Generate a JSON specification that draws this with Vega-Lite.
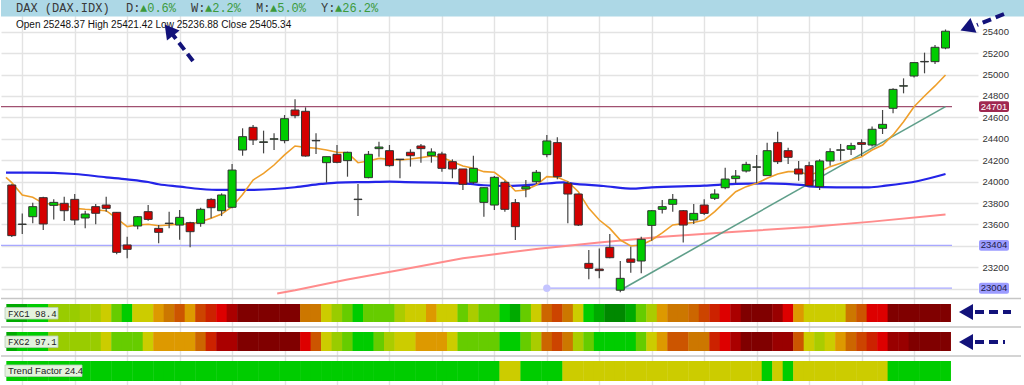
{
  "$schema": "https://vega.github.io/schema/vega-lite/v6.json",
  "width": 977,
  "height": 385,
  "padding": 0,
  "autosize": {"type": "pad"},
  "background": "white",
  "config": {"view": {"stroke": null}, "text": {"font": "Liberation Sans"}},
  "datasets": {
    "candles": [
      {"i":0,"o":23968,"h":23975,"l":23482,"c":23495,"f1":1,"f2":1,"tf":2},
      {"i":1,"o":23600,"h":23703,"l":23510,"c":23603,"f1":1,"f2":2,"tf":2},
      {"i":2,"o":23672,"h":23803,"l":23610,"c":23766,"f1":2,"f2":2,"tf":2},
      {"i":3,"o":23850,"h":23859,"l":23548,"c":23604,"f1":2,"f2":2,"tf":2},
      {"i":4,"o":23778,"h":23834,"l":23647,"c":23806,"f1":4,"f2":4,"tf":2},
      {"i":5,"o":23797,"h":23859,"l":23632,"c":23728,"f1":4,"f2":4,"tf":2},
      {"i":6,"o":23834,"h":23884,"l":23594,"c":23641,"f1":4,"f2":4,"tf":2},
      {"i":7,"o":23660,"h":23728,"l":23563,"c":23697,"f1":5,"f2":4,"tf":2},
      {"i":8,"o":23766,"h":23791,"l":23601,"c":23704,"f1":5,"f2":4,"tf":2},
      {"i":9,"o":23781,"h":23859,"l":23719,"c":23750,"f1":6,"f2":6,"tf":2},
      {"i":10,"o":23713,"h":23716,"l":23320,"c":23339,"f1":3,"f2":3,"tf":2},
      {"i":11,"o":23408,"h":23485,"l":23283,"c":23367,"f1":2,"f2":3,"tf":2},
      {"i":12,"o":23585,"h":23678,"l":23554,"c":23672,"f1":6,"f2":3,"tf":2},
      {"i":13,"o":23719,"h":23781,"l":23635,"c":23647,"f1":6,"f2":6,"tf":2},
      {"i":14,"o":23563,"h":23594,"l":23423,"c":23526,"f1":7,"f2":7,"tf":2},
      {"i":15,"o":23608,"h":23719,"l":23563,"c":23612,"f1":8,"f2":7,"tf":2},
      {"i":16,"o":23594,"h":23735,"l":23457,"c":23666,"f1":10,"f2":7,"tf":2},
      {"i":17,"o":23616,"h":23625,"l":23386,"c":23532,"f1":7,"f2":7,"tf":2},
      {"i":18,"o":23610,"h":23756,"l":23579,"c":23741,"f1":11,"f2":9,"tf":2},
      {"i":19,"o":23834,"h":23844,"l":23657,"c":23756,"f1":12,"f2":12,"tf":2},
      {"i":20,"o":23728,"h":23890,"l":23678,"c":23875,"f1":13,"f2":14,"tf":2},
      {"i":21,"o":23760,"h":24165,"l":23750,"c":24108,"f1":14,"f2":14,"tf":2},
      {"i":22,"o":24295,"h":24498,"l":24242,"c":24420,"f1":16,"f2":16,"tf":2},
      {"i":23,"o":24507,"h":24529,"l":24342,"c":24389,"f1":16,"f2":16,"tf":2},
      {"i":24,"o":24366,"h":24476,"l":24264,"c":24372,"f1":16,"f2":16,"tf":2},
      {"i":25,"o":24396,"h":24451,"l":24295,"c":24400,"f1":16,"f2":16,"tf":2},
      {"i":26,"o":24383,"h":24622,"l":24358,"c":24588,"f1":16,"f2":16,"tf":2},
      {"i":27,"o":24669,"h":24769,"l":24591,"c":24616,"f1":16,"f2":16,"tf":2},
      {"i":28,"o":24657,"h":24694,"l":24233,"c":24239,"f1":8,"f2":13,"tf":2},
      {"i":29,"o":24381,"h":24451,"l":24258,"c":24385,"f1":8,"f2":10,"tf":2},
      {"i":30,"o":24177,"h":24233,"l":23990,"c":24233,"f1":6,"f2":6,"tf":2},
      {"i":31,"o":24255,"h":24342,"l":24171,"c":24180,"f1":4,"f2":4,"tf":2},
      {"i":32,"o":24196,"h":24280,"l":24046,"c":24274,"f1":3,"f2":3,"tf":2},
      {"i":33,"o":23832,"h":23978,"l":23679,"c":23836,"f1":2,"f2":2,"tf":2},
      {"i":34,"o":24037,"h":24286,"l":24031,"c":24255,"f1":3,"f2":2,"tf":2},
      {"i":35,"o":24308,"h":24373,"l":24233,"c":24323,"f1":3,"f2":3,"tf":2},
      {"i":36,"o":24289,"h":24342,"l":24140,"c":24149,"f1":3,"f2":5,"tf":2},
      {"i":37,"o":24206,"h":24211,"l":24031,"c":24210,"f1":5,"f2":6,"tf":2},
      {"i":38,"o":24274,"h":24302,"l":24140,"c":24242,"f1":6,"f2":6,"tf":2},
      {"i":39,"o":24333,"h":24351,"l":24177,"c":24308,"f1":6,"f2":7,"tf":2},
      {"i":40,"o":24242,"h":24311,"l":24177,"c":24277,"f1":7,"f2":7,"tf":2},
      {"i":41,"o":24258,"h":24280,"l":24093,"c":24124,"f1":6,"f2":7,"tf":2},
      {"i":42,"o":24186,"h":24208,"l":24031,"c":24118,"f1":6,"f2":6,"tf":2},
      {"i":43,"o":24118,"h":24118,"l":23922,"c":23975,"f1":3,"f2":3,"tf":2},
      {"i":44,"o":23993,"h":24242,"l":23978,"c":24124,"f1":5,"f2":3,"tf":2},
      {"i":45,"o":23806,"h":23945,"l":23672,"c":23943,"f1":3,"f2":3,"tf":2},
      {"i":46,"o":23781,"h":24052,"l":23735,"c":24040,"f1":3,"f2":3,"tf":2},
      {"i":47,"o":23993,"h":24009,"l":23719,"c":23741,"f1":2,"f2":2,"tf":6},
      {"i":48,"o":23803,"h":23837,"l":23454,"c":23579,"f1":1,"f2":2,"tf":6},
      {"i":49,"o":23931,"h":24015,"l":23853,"c":23953,"f1":3,"f2":3,"tf":2},
      {"i":50,"o":23999,"h":24108,"l":23978,"c":24087,"f1":6,"f2":5,"tf":2},
      {"i":51,"o":24252,"h":24436,"l":24227,"c":24380,"f1":9,"f2":9,"tf":2},
      {"i":52,"o":24364,"h":24414,"l":24021,"c":24046,"f1":11,"f2":11,"tf":2},
      {"i":53,"o":23984,"h":24000,"l":23610,"c":23884,"f1":8,"f2":8,"tf":6},
      {"i":54,"o":23884,"h":23890,"l":23585,"c":23594,"f1":6,"f2":5,"tf":6},
      {"i":55,"o":23236,"h":23361,"l":23087,"c":23190,"f1":2,"f2":3,"tf":6},
      {"i":56,"o":23183,"h":23376,"l":23096,"c":23168,"f1":1,"f2":2,"tf":6},
      {"i":57,"o":23386,"h":23510,"l":23283,"c":23289,"f1":0,"f2":2,"tf":6},
      {"i":58,"o":22985,"h":23258,"l":22965,"c":23096,"f1":0,"f2":2,"tf":6},
      {"i":59,"o":23277,"h":23392,"l":23149,"c":23246,"f1":1,"f2":2,"tf":6},
      {"i":60,"o":23258,"h":23485,"l":23143,"c":23461,"f1":3,"f2":3,"tf":6},
      {"i":61,"o":23591,"h":23735,"l":23448,"c":23728,"f1":5,"f2":6,"tf":6},
      {"i":62,"o":23741,"h":23828,"l":23703,"c":23766,"f1":7,"f2":7,"tf":6},
      {"i":63,"o":23788,"h":23884,"l":23719,"c":23834,"f1":8,"f2":10,"tf":6},
      {"i":64,"o":23728,"h":23735,"l":23432,"c":23594,"f1":8,"f2":10,"tf":6},
      {"i":65,"o":23641,"h":23791,"l":23604,"c":23703,"f1":9,"f2":8,"tf":6},
      {"i":66,"o":23781,"h":23834,"l":23688,"c":23703,"f1":11,"f2":8,"tf":6},
      {"i":67,"o":23844,"h":23928,"l":23828,"c":23884,"f1":12,"f2":12,"tf":6},
      {"i":68,"o":23943,"h":24130,"l":23928,"c":24024,"f1":13,"f2":13,"tf":6},
      {"i":69,"o":24028,"h":24109,"l":23984,"c":24052,"f1":14,"f2":14,"tf":6},
      {"i":70,"o":24099,"h":24186,"l":24084,"c":24161,"f1":16,"f2":16,"tf":6},
      {"i":71,"o":24134,"h":24249,"l":23984,"c":24138,"f1":16,"f2":16,"tf":6},
      {"i":72,"o":24056,"h":24364,"l":24056,"c":24289,"f1":16,"f2":16,"tf":2},
      {"i":73,"o":24364,"h":24467,"l":24165,"c":24186,"f1":15,"f2":15,"tf":6},
      {"i":74,"o":24289,"h":24317,"l":24165,"c":24227,"f1":13,"f2":15,"tf":2},
      {"i":75,"o":24118,"h":24193,"l":24009,"c":24071,"f1":7,"f2":10,"tf":6},
      {"i":76,"o":24149,"h":24186,"l":23962,"c":23962,"f1":6,"f2":6,"tf":6},
      {"i":77,"o":23953,"h":24208,"l":23922,"c":24193,"f1":6,"f2":5,"tf":6},
      {"i":78,"o":24193,"h":24311,"l":24149,"c":24280,"f1":6,"f2":6,"tf":6},
      {"i":79,"o":24293,"h":24352,"l":24196,"c":24297,"f1":6,"f2":7,"tf":6},
      {"i":80,"o":24302,"h":24364,"l":24249,"c":24336,"f1":8,"f2":9,"tf":6},
      {"i":81,"o":24364,"h":24395,"l":24239,"c":24348,"f1":10,"f2":11,"tf":6},
      {"i":82,"o":24342,"h":24514,"l":24327,"c":24489,"f1":13,"f2":12,"tf":6},
      {"i":83,"o":24498,"h":24669,"l":24445,"c":24535,"f1":13,"f2":13,"tf":6},
      {"i":84,"o":24685,"h":24872,"l":24638,"c":24862,"f1":16,"f2":15,"tf":2},
      {"i":85,"o":24892,"h":24965,"l":24825,"c":24896,"f1":16,"f2":15,"tf":2},
      {"i":86,"o":24987,"h":25112,"l":24974,"c":25112,"f1":16,"f2":16,"tf":2},
      {"i":87,"o":25119,"h":25205,"l":25012,"c":25123,"f1":16,"f2":16,"tf":2},
      {"i":88,"o":25121,"h":25277,"l":25099,"c":25255,"f1":16,"f2":16,"tf":2},
      {"i":89,"o":25248.37,"h":25421.42,"l":25236.88,"c":25405.34,"f1":16,"f2":16,"tf":2}
    ],
    "ema": [
      {"i":-0.55,"v":24040},{"i":0,"v":23990},{"i":1,"v":23875},{"i":2,"v":23853},{"i":3,"v":23797},{"i":4,"v":23788},
      {"i":5,"v":23781},{"i":6,"v":23750},{"i":7,"v":23741},{"i":8,"v":23735},{"i":9,"v":23728},{"i":10,"v":23657},
      {"i":11,"v":23579},{"i":12,"v":23594},{"i":13,"v":23601},{"i":14,"v":23588},{"i":15,"v":23594},{"i":16,"v":23604},
      {"i":17,"v":23601},{"i":18,"v":23626},{"i":19,"v":23657},{"i":20,"v":23697},{"i":21,"v":23766},{"i":22,"v":23880},
      {"i":23,"v":24015},{"i":24,"v":24077},{"i":25,"v":24155},{"i":26,"v":24249},{"i":27,"v":24333},{"i":28,"v":24320},
      {"i":29,"v":24311},{"i":30,"v":24295},{"i":31,"v":24274},{"i":32,"v":24270},{"i":33,"v":24177},{"i":34,"v":24193},
      {"i":35,"v":24217},{"i":36,"v":24208},{"i":37,"v":24202},{"i":38,"v":24211},{"i":39,"v":24224},{"i":40,"v":24239},
      {"i":41,"v":24227},{"i":42,"v":24186},{"i":43,"v":24146},{"i":44,"v":24124},{"i":45,"v":24093},{"i":46,"v":24087},
      {"i":47,"v":24015},{"i":48,"v":23912},{"i":49,"v":23922},{"i":50,"v":23968},{"i":51,"v":24046},{"i":52,"v":24040},
      {"i":53,"v":24000},{"i":54,"v":23906},{"i":55,"v":23750},{"i":56,"v":23641},{"i":57,"v":23563},{"i":58,"v":23454},
      {"i":59,"v":23398},{"i":60,"v":23408},{"i":61,"v":23454},{"i":62,"v":23520},{"i":63,"v":23595},{"i":64,"v":23607},
      {"i":65,"v":23618},{"i":66,"v":23641},{"i":67,"v":23719},{"i":68,"v":23813},{"i":69,"v":23906},{"i":70,"v":23953},
      {"i":71,"v":23984},{"i":72,"v":24031},{"i":73,"v":24071},{"i":74,"v":24093},{"i":75,"v":24093},{"i":76,"v":24062},
      {"i":77,"v":24093},{"i":78,"v":24140},{"i":79,"v":24171},{"i":80,"v":24202},{"i":81,"v":24233},{"i":82,"v":24295},
      {"i":83,"v":24342},{"i":84,"v":24436},{"i":85,"v":24560},{"i":86,"v":24700},{"i":87,"v":24800},{"i":88,"v":24894},
      {"i":89,"v":24996}
    ],
    "ma": [
      {"i":-0.55,"v":24084},{"i":2,"v":24084},{"i":6,"v":24071},{"i":9,"v":24040},{"i":11,"v":24021},
      {"i":13,"v":23996},{"i":14,"v":23975},{"i":16,"v":23953},{"i":18,"v":23931},{"i":20,"v":23922},
      {"i":22,"v":23922},{"i":25,"v":23931},{"i":27,"v":23947},{"i":29.5,"v":23978},{"i":31,"v":23990},
      {"i":34,"v":23996},{"i":36,"v":24000},{"i":37.5,"v":23996},{"i":40.5,"v":23990},{"i":43.7,"v":23978},
      {"i":45,"v":23966},{"i":47,"v":23959},{"i":50,"v":23974},{"i":52.6,"v":23993},{"i":53.3,"v":23984},
      {"i":56.4,"v":23959},{"i":59.3,"v":23934},{"i":61,"v":23946},{"i":66,"v":23962},{"i":69,"v":23978},
      {"i":72,"v":23984},{"i":75.5,"v":23968},{"i":76,"v":23955},{"i":78.6,"v":23947},{"i":81.7,"v":23947},
      {"i":83.3,"v":23962},{"i":86.4,"v":24006},{"i":89,"v":24071}
    ],
    "ma2": [
      {"i":25.3,"v":22955},{"i":27,"v":22985},{"i":30,"v":23045},{"i":32,"v":23085},{"i":37,"v":23174},
      {"i":43,"v":23283},{"i":50,"v":23370},{"i":56,"v":23430},{"i":62,"v":23485},{"i":69,"v":23532},
      {"i":76,"v":23575},{"i":82,"v":23626},{"i":89,"v":23692}
    ],
    "trend": [{"i":58,"v":22985},{"i":89,"v":24701}]
  },
  "layer": [
    {
      "data": {"name": "candles"},
      "mark": {"type": "rule", "color": "#444444", "strokeWidth": 1.2, "opacity": 0},
      "encoding": {
        "x": {"field": "i", "type": "quantitative", "scale": {"domain": [-0.55, 91.62], "nice": false, "zero": false},
          "axis": {"values": [1,6,11,16,21,26,31,36,41,46,51,56,61,66,71,76,81,86], "grid": true, "labels": false, "ticks": false, "domain": false, "title": null, "gridColor": "#e3e3e3", "gridWidth": 1.4}},
        "y": {"field": "l", "type": "quantitative", "scale": {"domain": [22099.3, 25697.1], "nice": false, "zero": false},
          "axis": {"orient": "right", "values": [23000,23200,23400,23600,23800,24000,24200,24400,24600,24800,25000,25200,25400], "format": "d",
            "labelExpr": "datum.value == 23000 || datum.value == 23400 ? '' : datum.label",
            "grid": true, "gridColor": "#e3e3e3", "gridWidth": 1.4, "ticks": false, "domain": false, "labelPadding": 4,
            "labelFont": "Liberation Sans", "labelFontSize": 9.5, "labelColor": "#333333", "title": null}}
      }
    },
    {
      "data": {"values": [{}]},
      "mark": {"type": "rule", "color": "#a05070", "strokeWidth": 1.2},
      "encoding": {
        "y": {"datum": 24701, "scale": {"domain": [22099.3, 25697.1], "nice": false, "zero": false},
          "axis": {"orient": "right", "values": [23000,23200,23400,23600,23800,24000,24200,24400,24600,24800,25000,25200,25400], "format": "d",
            "labelExpr": "datum.value == 23000 || datum.value == 23400 ? '' : datum.label",
            "grid": true, "gridColor": "#e3e3e3", "gridWidth": 1.4, "ticks": false, "domain": false, "labelPadding": 4,
            "labelFont": "Liberation Sans", "labelFontSize": 9.5, "labelColor": "#333333", "title": null}},
        "x": {"value": 0}, "x2": {"value": 951}
      }
    },
    {
      "data": {"values": [{}]},
      "mark": {"type": "rule", "color": "#a8a8ff", "strokeWidth": 1.2},
      "encoding": {
        "y": {"datum": 23404, "scale": {"domain": [22099.3, 25697.1], "nice": false, "zero": false},
          "axis": {"orient": "right", "values": [23000,23200,23400,23600,23800,24000,24200,24400,24600,24800,25000,25200,25400], "format": "d",
            "labelExpr": "datum.value == 23000 || datum.value == 23400 ? '' : datum.label",
            "grid": true, "gridColor": "#e3e3e3", "gridWidth": 1.4, "ticks": false, "domain": false, "labelPadding": 4,
            "labelFont": "Liberation Sans", "labelFontSize": 9.5, "labelColor": "#333333", "title": null}},
        "x": {"value": 0}, "x2": {"value": 951}
      }
    },
    {
      "data": {"values": [{}]},
      "mark": {"type": "rule", "color": "#a8a8ff", "strokeWidth": 1.2},
      "encoding": {
        "y": {"datum": 23004, "scale": {"domain": [22099.3, 25697.1], "nice": false, "zero": false},
          "axis": {"orient": "right", "values": [23000,23200,23400,23600,23800,24000,24200,24400,24600,24800,25000,25200,25400], "format": "d",
            "labelExpr": "datum.value == 23000 || datum.value == 23400 ? '' : datum.label",
            "grid": true, "gridColor": "#e3e3e3", "gridWidth": 1.4, "ticks": false, "domain": false, "labelPadding": 4,
            "labelFont": "Liberation Sans", "labelFontSize": 9.5, "labelColor": "#333333", "title": null}},
        "x": {"datum": 51, "scale": {"domain": [-0.55, 91.62], "nice": false, "zero": false},
          "axis": {"values": [1,6,11,16,21,26,31,36,41,46,51,56,61,66,71,76,81,86], "grid": true, "labels": false, "ticks": false, "domain": false, "title": null, "gridColor": "#e3e3e3", "gridWidth": 1.4}},
        "x2": {"value": 951}
      }
    },
    {
      "data": {"values": [{}]},
      "mark": {"type": "point", "filled": true, "color": "#c4c4ff", "size": 55, "opacity": 1},
      "encoding": {
        "y": {"datum": 23004, "scale": {"domain": [22099.3, 25697.1], "nice": false, "zero": false},
          "axis": {"orient": "right", "values": [23000,23200,23400,23600,23800,24000,24200,24400,24600,24800,25000,25200,25400], "format": "d",
            "labelExpr": "datum.value == 23000 || datum.value == 23400 ? '' : datum.label",
            "grid": true, "gridColor": "#e3e3e3", "gridWidth": 1.4, "ticks": false, "domain": false, "labelPadding": 4,
            "labelFont": "Liberation Sans", "labelFontSize": 9.5, "labelColor": "#333333", "title": null}},
        "x": {"datum": 51, "scale": {"domain": [-0.55, 91.62], "nice": false, "zero": false},
          "axis": {"values": [1,6,11,16,21,26,31,36,41,46,51,56,61,66,71,76,81,86], "grid": true, "labels": false, "ticks": false, "domain": false, "title": null, "gridColor": "#e3e3e3", "gridWidth": 1.4}}
      }
    },
    {
      "data": {"name": "ma2"},
      "mark": {"type": "line", "color": "#ff8c8c", "strokeWidth": 2},
      "encoding": {
        "x": {"field": "i", "type": "quantitative", "scale": {"domain": [-0.55, 91.62], "nice": false, "zero": false},
          "axis": {"values": [1,6,11,16,21,26,31,36,41,46,51,56,61,66,71,76,81,86], "grid": true, "labels": false, "ticks": false, "domain": false, "title": null, "gridColor": "#e3e3e3", "gridWidth": 1.4}},
        "y": {"field": "v", "type": "quantitative", "scale": {"domain": [22099.3, 25697.1], "nice": false, "zero": false},
          "axis": {"orient": "right", "values": [23000,23200,23400,23600,23800,24000,24200,24400,24600,24800,25000,25200,25400], "format": "d",
            "labelExpr": "datum.value == 23000 || datum.value == 23400 ? '' : datum.label",
            "grid": true, "gridColor": "#e3e3e3", "gridWidth": 1.4, "ticks": false, "domain": false, "labelPadding": 4,
            "labelFont": "Liberation Sans", "labelFontSize": 9.5, "labelColor": "#333333", "title": null}}
      }
    },
    {
      "data": {"name": "trend"},
      "mark": {"type": "line", "color": "#5f9f8a", "strokeWidth": 1.6},
      "encoding": {
        "x": {"field": "i", "type": "quantitative", "scale": {"domain": [-0.55, 91.62], "nice": false, "zero": false},
          "axis": {"values": [1,6,11,16,21,26,31,36,41,46,51,56,61,66,71,76,81,86], "grid": true, "labels": false, "ticks": false, "domain": false, "title": null, "gridColor": "#e3e3e3", "gridWidth": 1.4}},
        "y": {"field": "v", "type": "quantitative", "scale": {"domain": [22099.3, 25697.1], "nice": false, "zero": false},
          "axis": {"orient": "right", "values": [23000,23200,23400,23600,23800,24000,24200,24400,24600,24800,25000,25200,25400], "format": "d",
            "labelExpr": "datum.value == 23000 || datum.value == 23400 ? '' : datum.label",
            "grid": true, "gridColor": "#e3e3e3", "gridWidth": 1.4, "ticks": false, "domain": false, "labelPadding": 4,
            "labelFont": "Liberation Sans", "labelFontSize": 9.5, "labelColor": "#333333", "title": null}}
      }
    },
    {
      "data": {"name": "ma"},
      "mark": {"type": "line", "color": "#2424e8", "strokeWidth": 2.2, "interpolate": "monotone"},
      "encoding": {
        "x": {"field": "i", "type": "quantitative", "scale": {"domain": [-0.55, 91.62], "nice": false, "zero": false},
          "axis": {"values": [1,6,11,16,21,26,31,36,41,46,51,56,61,66,71,76,81,86], "grid": true, "labels": false, "ticks": false, "domain": false, "title": null, "gridColor": "#e3e3e3", "gridWidth": 1.4}},
        "y": {"field": "v", "type": "quantitative", "scale": {"domain": [22099.3, 25697.1], "nice": false, "zero": false},
          "axis": {"orient": "right", "values": [23000,23200,23400,23600,23800,24000,24200,24400,24600,24800,25000,25200,25400], "format": "d",
            "labelExpr": "datum.value == 23000 || datum.value == 23400 ? '' : datum.label",
            "grid": true, "gridColor": "#e3e3e3", "gridWidth": 1.4, "ticks": false, "domain": false, "labelPadding": 4,
            "labelFont": "Liberation Sans", "labelFontSize": 9.5, "labelColor": "#333333", "title": null}}
      }
    },
    {
      "data": {"name": "ema"},
      "mark": {"type": "line", "color": "#ef9f2a", "strokeWidth": 1.6},
      "encoding": {
        "x": {"field": "i", "type": "quantitative", "scale": {"domain": [-0.55, 91.62], "nice": false, "zero": false},
          "axis": {"values": [1,6,11,16,21,26,31,36,41,46,51,56,61,66,71,76,81,86], "grid": true, "labels": false, "ticks": false, "domain": false, "title": null, "gridColor": "#e3e3e3", "gridWidth": 1.4}},
        "y": {"field": "v", "type": "quantitative", "scale": {"domain": [22099.3, 25697.1], "nice": false, "zero": false},
          "axis": {"orient": "right", "values": [23000,23200,23400,23600,23800,24000,24200,24400,24600,24800,25000,25200,25400], "format": "d",
            "labelExpr": "datum.value == 23000 || datum.value == 23400 ? '' : datum.label",
            "grid": true, "gridColor": "#e3e3e3", "gridWidth": 1.4, "ticks": false, "domain": false, "labelPadding": 4,
            "labelFont": "Liberation Sans", "labelFontSize": 9.5, "labelColor": "#333333", "title": null}}
      }
    },
    {
      "data": {"name": "candles"},
      "mark": {"type": "rule", "color": "#444444", "strokeWidth": 1.2},
      "encoding": {
        "x": {"field": "i", "type": "quantitative", "scale": {"domain": [-0.55, 91.62], "nice": false, "zero": false},
          "axis": {"values": [1,6,11,16,21,26,31,36,41,46,51,56,61,66,71,76,81,86], "grid": true, "labels": false, "ticks": false, "domain": false, "title": null, "gridColor": "#e3e3e3", "gridWidth": 1.4}},
        "y": {"field": "l", "type": "quantitative", "scale": {"domain": [22099.3, 25697.1], "nice": false, "zero": false},
          "axis": {"orient": "right", "values": [23000,23200,23400,23600,23800,24000,24200,24400,24600,24800,25000,25200,25400], "format": "d",
            "labelExpr": "datum.value == 23000 || datum.value == 23400 ? '' : datum.label",
            "grid": true, "gridColor": "#e3e3e3", "gridWidth": 1.4, "ticks": false, "domain": false, "labelPadding": 4,
            "labelFont": "Liberation Sans", "labelFontSize": 9.5, "labelColor": "#333333", "title": null}},
        "y2": {"field": "h"}
      }
    },
    {
      "data": {"name": "candles"},
      "mark": {"type": "bar", "size": 8, "stroke": "#333333", "strokeWidth": 1},
      "encoding": {
        "x": {"field": "i", "type": "quantitative", "scale": {"domain": [-0.55, 91.62], "nice": false, "zero": false},
          "axis": {"values": [1,6,11,16,21,26,31,36,41,46,51,56,61,66,71,76,81,86], "grid": true, "labels": false, "ticks": false, "domain": false, "title": null, "gridColor": "#e3e3e3", "gridWidth": 1.4}},
        "y": {"field": "o", "type": "quantitative", "scale": {"domain": [22099.3, 25697.1], "nice": false, "zero": false},
          "axis": {"orient": "right", "values": [23000,23200,23400,23600,23800,24000,24200,24400,24600,24800,25000,25200,25400], "format": "d",
            "labelExpr": "datum.value == 23000 || datum.value == 23400 ? '' : datum.label",
            "grid": true, "gridColor": "#e3e3e3", "gridWidth": 1.4, "ticks": false, "domain": false, "labelPadding": 4,
            "labelFont": "Liberation Sans", "labelFontSize": 9.5, "labelColor": "#333333", "title": null}},
        "y2": {"field": "c"},
        "color": {"condition": {"test": "datum.c >= datum.o", "value": "#00cc00"}, "value": "#d40000"}
      }
    },
    {
      "data": {"values": [{}]},
      "mark": {"type": "rule", "color": "#c6c6c6", "strokeWidth": 1.5},
      "encoding": {"x": {"value": 0}, "x2": {"value": 1020}, "y": {"value": 298.5}}
    },
    {
      "data": {"values": [{}]},
      "mark": {"type": "rule", "color": "#c6c6c6", "strokeWidth": 1.5},
      "encoding": {"x": {"value": 0}, "x2": {"value": 1020}, "y": {"value": 327}}
    },
    {
      "data": {"values": [{}]},
      "mark": {"type": "rule", "color": "#c6c6c6", "strokeWidth": 1.5},
      "encoding": {"x": {"value": 0}, "x2": {"value": 1020}, "y": {"value": 356}}
    },
    {
      "data": {"name": "candles"},
      "mark": {"type": "bar", "orient": "vertical", "size": 10.9},
      "encoding": {
        "x": {"field": "i", "type": "quantitative", "scale": {"domain": [-0.55, 91.62], "nice": false, "zero": false},
          "axis": {"values": [1,6,11,16,21,26,31,36,41,46,51,56,61,66,71,76,81,86], "grid": true, "labels": false, "ticks": false, "domain": false, "title": null, "gridColor": "#e3e3e3", "gridWidth": 1.4}},
        "y": {"value": 304}, "y2": {"value": 322},
        "color": {"field": "f1", "type": "ordinal", "legend": null,
          "scale": {"domain": [0,1,2,3,4,5,6,7,8,9,10,11,12,13,14,15,16], "range": ["#008800","#00aa00","#00cc00","#66cc00","#99cc00","#aacc00","#cccc00","#dd9900","#cc7700","#cc6600","#cc5500","#cc4400","#cc2200","#dd0000","#aa0000","#990000","#800000"]}}
      }
    },
    {
      "data": {"name": "candles"},
      "mark": {"type": "bar", "orient": "vertical", "size": 10.9},
      "encoding": {
        "x": {"field": "i", "type": "quantitative", "scale": {"domain": [-0.55, 91.62], "nice": false, "zero": false},
          "axis": {"values": [1,6,11,16,21,26,31,36,41,46,51,56,61,66,71,76,81,86], "grid": true, "labels": false, "ticks": false, "domain": false, "title": null, "gridColor": "#e3e3e3", "gridWidth": 1.4}},
        "y": {"value": 332}, "y2": {"value": 351},
        "color": {"field": "f2", "type": "ordinal", "legend": null,
          "scale": {"domain": [0,1,2,3,4,5,6,7,8,9,10,11,12,13,14,15,16], "range": ["#008800","#00aa00","#00cc00","#66cc00","#99cc00","#aacc00","#cccc00","#dd9900","#cc7700","#cc6600","#cc5500","#cc4400","#cc2200","#dd0000","#aa0000","#990000","#800000"]}}
      }
    },
    {
      "data": {"name": "candles"},
      "mark": {"type": "bar", "orient": "vertical", "size": 10.9},
      "encoding": {
        "x": {"field": "i", "type": "quantitative", "scale": {"domain": [-0.55, 91.62], "nice": false, "zero": false},
          "axis": {"values": [1,6,11,16,21,26,31,36,41,46,51,56,61,66,71,76,81,86], "grid": true, "labels": false, "ticks": false, "domain": false, "title": null, "gridColor": "#e3e3e3", "gridWidth": 1.4}},
        "y": {"value": 361}, "y2": {"value": 381},
        "color": {"field": "tf", "type": "ordinal", "legend": null,
          "scale": {"domain": [0,1,2,3,4,5,6,7,8,9,10,11,12,13,14,15,16], "range": ["#008800","#00aa00","#00cc00","#66cc00","#99cc00","#aacc00","#cccc00","#dd9900","#cc7700","#cc6600","#cc5500","#cc4400","#cc2200","#dd0000","#aa0000","#990000","#800000"]}}
      }
    },
    {
      "data": {"values": [{}]},
      "mark": {"type": "rect", "fill": "#e4f2de", "stroke": "#b8ccb8", "strokeWidth": 0.8},
      "encoding": {"x": {"value": 4}, "x2": {"value": 57}, "y": {"value": 307.5}, "y2": {"value": 319}}
    },
    {
      "data": {"values": [{}]},
      "mark": {"type": "text", "text": "FXC1 98.4", "font": "Liberation Mono", "fontSize": 9, "color": "#222222", "align": "left", "baseline": "middle"},
      "encoding": {"x": {"value": 7}, "y": {"value": 313.5}}
    },
    {
      "data": {"values": [{}]},
      "mark": {"type": "rect", "fill": "#e4f2de", "stroke": "#b8ccb8", "strokeWidth": 0.8},
      "encoding": {"x": {"value": 4}, "x2": {"value": 57}, "y": {"value": 336}, "y2": {"value": 347.5}}
    },
    {
      "data": {"values": [{}]},
      "mark": {"type": "text", "text": "FXC2 97.1", "font": "Liberation Mono", "fontSize": 9, "color": "#222222", "align": "left", "baseline": "middle"},
      "encoding": {"x": {"value": 7}, "y": {"value": 342}}
    },
    {
      "data": {"values": [{}]},
      "mark": {"type": "rect", "fill": "#e4f2de", "stroke": "#b8ccb8", "strokeWidth": 0.8},
      "encoding": {"x": {"value": 4}, "x2": {"value": 81}, "y": {"value": 365}, "y2": {"value": 376.5}}
    },
    {
      "data": {"values": [{}]},
      "mark": {"type": "text", "text": "Trend Factor 24.4", "font": "Liberation Sans", "fontSize": 9.5, "color": "#222222", "align": "left", "baseline": "middle"},
      "encoding": {"x": {"value": 7}, "y": {"value": 371}}
    },
    {
      "data": {"values": [{}]},
      "mark": {"type": "rect", "fill": "#add8e6"},
      "encoding": {"x": {"value": 0}, "x2": {"value": 1024}, "y": {"value": 0}, "y2": {"value": 16.5}}
    },
    {
      "data": {"values": [{}]},
      "mark": {"type": "text", "text": "DAX (DAX.IDX)", "font": "Liberation Mono", "fontSize": 12, "color": "#3a3a3a", "align": "left", "baseline": "middle"},
      "encoding": {"x": {"value": 15}, "y": {"value": 8}}
    },
    {
      "data": {"values": [{}]},
      "mark": {"type": "text", "text": "D:", "font": "Liberation Mono", "fontSize": 12, "color": "#3a3a3a", "align": "left", "baseline": "middle"},
      "encoding": {"x": {"value": 125}, "y": {"value": 8}}
    },
    {
      "data": {"values": [{}]},
      "mark": {"type": "text", "text": "▲0.6%", "font": "Liberation Mono", "fontSize": 12, "color": "#3c9a3c", "align": "left", "baseline": "middle"},
      "encoding": {"x": {"value": 139}, "y": {"value": 8}}
    },
    {
      "data": {"values": [{}]},
      "mark": {"type": "text", "text": "W:", "font": "Liberation Mono", "fontSize": 12, "color": "#3a3a3a", "align": "left", "baseline": "middle"},
      "encoding": {"x": {"value": 190}, "y": {"value": 8}}
    },
    {
      "data": {"values": [{}]},
      "mark": {"type": "text", "text": "▲2.2%", "font": "Liberation Mono", "fontSize": 12, "color": "#3c9a3c", "align": "left", "baseline": "middle"},
      "encoding": {"x": {"value": 204}, "y": {"value": 8}}
    },
    {
      "data": {"values": [{}]},
      "mark": {"type": "text", "text": "M:", "font": "Liberation Mono", "fontSize": 12, "color": "#3a3a3a", "align": "left", "baseline": "middle"},
      "encoding": {"x": {"value": 255}, "y": {"value": 8}}
    },
    {
      "data": {"values": [{}]},
      "mark": {"type": "text", "text": "▲5.0%", "font": "Liberation Mono", "fontSize": 12, "color": "#3c9a3c", "align": "left", "baseline": "middle"},
      "encoding": {"x": {"value": 269}, "y": {"value": 8}}
    },
    {
      "data": {"values": [{}]},
      "mark": {"type": "text", "text": "Y:", "font": "Liberation Mono", "fontSize": 12, "color": "#3a3a3a", "align": "left", "baseline": "middle"},
      "encoding": {"x": {"value": 320}, "y": {"value": 8}}
    },
    {
      "data": {"values": [{}]},
      "mark": {"type": "text", "text": "▲26.2%", "font": "Liberation Mono", "fontSize": 12, "color": "#3c9a3c", "align": "left", "baseline": "middle"},
      "encoding": {"x": {"value": 334}, "y": {"value": 8}}
    },
    {
      "data": {"values": [{}]},
      "mark": {"type": "text", "text": "Open 25248.37 High 25421.42 Low 25236.88 Close 25405.34", "font": "Liberation Sans", "fontSize": 10, "color": "#111111", "align": "left", "baseline": "middle"},
      "encoding": {"x": {"value": 15}, "y": {"value": 24.5}}
    },
    {
      "data": {"values": [{}]},
      "mark": {"type": "rect", "fill": "#a02850", "cornerRadius": 2},
      "encoding": {
        "x": {"value": 978}, "x2": {"value": 1008},
        "y": {"datum": 24752, "scale": {"domain": [22099.3, 25697.1], "nice": false, "zero": false},
          "axis": {"orient": "right", "values": [23000,23200,23400,23600,23800,24000,24200,24400,24600,24800,25000,25200,25400], "format": "d",
            "labelExpr": "datum.value == 23000 || datum.value == 23400 ? '' : datum.label",
            "grid": true, "gridColor": "#e3e3e3", "gridWidth": 1.4, "ticks": false, "domain": false, "labelPadding": 4,
            "labelFont": "Liberation Sans", "labelFontSize": 9.5, "labelColor": "#333333", "title": null}},
        "y2": {"datum": 24650}
      }
    },
    {
      "data": {"values": [{}]},
      "mark": {"type": "text", "text": "24701", "font": "Liberation Sans", "fontSize": 9.5, "color": "#ffffff", "align": "center", "baseline": "middle"},
      "encoding": {
        "x": {"value": 993},
        "y": {"datum": 24701, "scale": {"domain": [22099.3, 25697.1], "nice": false, "zero": false},
          "axis": {"orient": "right", "values": [23000,23200,23400,23600,23800,24000,24200,24400,24600,24800,25000,25200,25400], "format": "d",
            "labelExpr": "datum.value == 23000 || datum.value == 23400 ? '' : datum.label",
            "grid": true, "gridColor": "#e3e3e3", "gridWidth": 1.4, "ticks": false, "domain": false, "labelPadding": 4,
            "labelFont": "Liberation Sans", "labelFontSize": 9.5, "labelColor": "#333333", "title": null}}
      }
    },
    {
      "data": {"values": [{}]},
      "mark": {"type": "rect", "fill": "#9c9cff", "cornerRadius": 2},
      "encoding": {
        "x": {"value": 978}, "x2": {"value": 1008},
        "y": {"datum": 23455, "scale": {"domain": [22099.3, 25697.1], "nice": false, "zero": false},
          "axis": {"orient": "right", "values": [23000,23200,23400,23600,23800,24000,24200,24400,24600,24800,25000,25200,25400], "format": "d",
            "labelExpr": "datum.value == 23000 || datum.value == 23400 ? '' : datum.label",
            "grid": true, "gridColor": "#e3e3e3", "gridWidth": 1.4, "ticks": false, "domain": false, "labelPadding": 4,
            "labelFont": "Liberation Sans", "labelFontSize": 9.5, "labelColor": "#333333", "title": null}},
        "y2": {"datum": 23353}
      }
    },
    {
      "data": {"values": [{}]},
      "mark": {"type": "text", "text": "23404", "font": "Liberation Sans", "fontSize": 9.5, "color": "#20204a", "align": "center", "baseline": "middle"},
      "encoding": {
        "x": {"value": 993},
        "y": {"datum": 23404, "scale": {"domain": [22099.3, 25697.1], "nice": false, "zero": false},
          "axis": {"orient": "right", "values": [23000,23200,23400,23600,23800,24000,24200,24400,24600,24800,25000,25200,25400], "format": "d",
            "labelExpr": "datum.value == 23000 || datum.value == 23400 ? '' : datum.label",
            "grid": true, "gridColor": "#e3e3e3", "gridWidth": 1.4, "ticks": false, "domain": false, "labelPadding": 4,
            "labelFont": "Liberation Sans", "labelFontSize": 9.5, "labelColor": "#333333", "title": null}}
      }
    },
    {
      "data": {"values": [{}]},
      "mark": {"type": "rect", "fill": "#9c9cff", "cornerRadius": 2},
      "encoding": {
        "x": {"value": 978}, "x2": {"value": 1008},
        "y": {"datum": 23055, "scale": {"domain": [22099.3, 25697.1], "nice": false, "zero": false},
          "axis": {"orient": "right", "values": [23000,23200,23400,23600,23800,24000,24200,24400,24600,24800,25000,25200,25400], "format": "d",
            "labelExpr": "datum.value == 23000 || datum.value == 23400 ? '' : datum.label",
            "grid": true, "gridColor": "#e3e3e3", "gridWidth": 1.4, "ticks": false, "domain": false, "labelPadding": 4,
            "labelFont": "Liberation Sans", "labelFontSize": 9.5, "labelColor": "#333333", "title": null}},
        "y2": {"datum": 22953}
      }
    },
    {
      "data": {"values": [{}]},
      "mark": {"type": "text", "text": "23004", "font": "Liberation Sans", "fontSize": 9.5, "color": "#20204a", "align": "center", "baseline": "middle"},
      "encoding": {
        "x": {"value": 993},
        "y": {"datum": 23004, "scale": {"domain": [22099.3, 25697.1], "nice": false, "zero": false},
          "axis": {"orient": "right", "values": [23000,23200,23400,23600,23800,24000,24200,24400,24600,24800,25000,25200,25400], "format": "d",
            "labelExpr": "datum.value == 23000 || datum.value == 23400 ? '' : datum.label",
            "grid": true, "gridColor": "#e3e3e3", "gridWidth": 1.4, "ticks": false, "domain": false, "labelPadding": 4,
            "labelFont": "Liberation Sans", "labelFontSize": 9.5, "labelColor": "#333333", "title": null}}
      }
    },
    {
      "data": {"values": [{}]},
      "mark": {"type": "rule", "color": "#12127a", "strokeWidth": 4, "strokeDash": [9, 5]},
      "encoding": {"x": {"value": 192}, "y": {"value": 61}, "x2": {"value": 172}, "y2": {"value": 35}}
    },
    {
      "data": {"values": [{}]},
      "mark": {"type": "point", "shape": "triangle-up", "filled": true, "color": "#12127a", "size": 260, "angle": -38, "opacity": 1},
      "encoding": {"x": {"value": 168}, "y": {"value": 30}}
    },
    {
      "data": {"values": [{}]},
      "mark": {"type": "rule", "color": "#12127a", "strokeWidth": 4, "strokeDash": [9, 5]},
      "encoding": {"x": {"value": 1003}, "y": {"value": 14}, "x2": {"value": 976}, "y2": {"value": 25}}
    },
    {
      "data": {"values": [{}]},
      "mark": {"type": "point", "shape": "triangle-left", "filled": true, "color": "#12127a", "size": 260, "angle": -22, "opacity": 1},
      "encoding": {"x": {"value": 966}, "y": {"value": 28}}
    },
    {
      "data": {"values": [{}]},
      "mark": {"type": "rule", "color": "#12127a", "strokeWidth": 4, "strokeDash": [9, 5]},
      "encoding": {"x": {"value": 974}, "y": {"value": 312}, "x2": {"value": 1010}, "y2": {"value": 312}}
    },
    {
      "data": {"values": [{}]},
      "mark": {"type": "point", "shape": "triangle-left", "filled": true, "color": "#12127a", "size": 260, "opacity": 1},
      "encoding": {"x": {"value": 965}, "y": {"value": 312}}
    },
    {
      "data": {"values": [{}]},
      "mark": {"type": "rule", "color": "#12127a", "strokeWidth": 4, "strokeDash": [9, 5]},
      "encoding": {"x": {"value": 974}, "y": {"value": 342}, "x2": {"value": 1004}, "y2": {"value": 342}}
    },
    {
      "data": {"values": [{}]},
      "mark": {"type": "point", "shape": "triangle-left", "filled": true, "color": "#12127a", "size": 260, "opacity": 1},
      "encoding": {"x": {"value": 965}, "y": {"value": 342}}
    }
  ]
}
